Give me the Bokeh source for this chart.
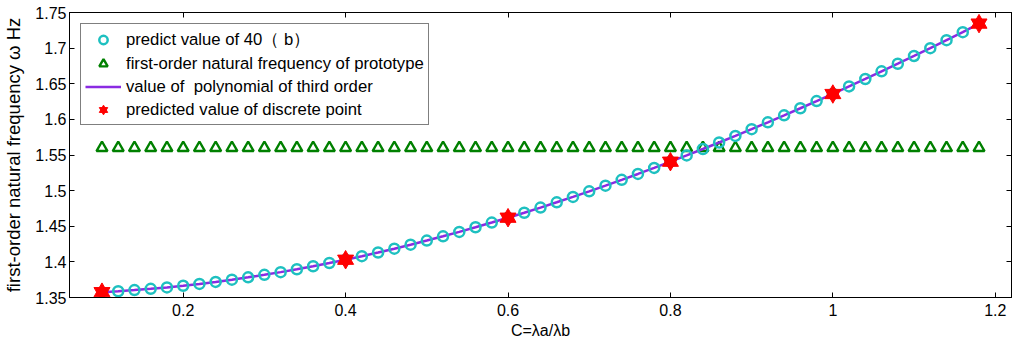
from bokeh.plotting import figure
from bokeh.models import (Range1d, LinearAxis, FixedTicker, Legend, LegendItem,
                          CustomJSTickFormatter)
from bokeh.embed import file_html
from bokeh.resources import INLINE

# ---- data ----
circle_x = [0.12, 0.14, 0.16, 0.18, 0.20, 0.22, 0.24, 0.26, 0.28, 0.30,
            0.32, 0.34, 0.36, 0.38, 0.40, 0.42, 0.44, 0.46, 0.48, 0.50,
            0.52, 0.54, 0.56, 0.58, 0.60, 0.62, 0.64, 0.66, 0.68, 0.70,
            0.72, 0.74, 0.76, 0.78, 0.80, 0.82, 0.84, 0.86, 0.88, 0.90,
            0.92, 0.94, 0.96, 0.98, 1.00, 1.02, 1.04, 1.06, 1.08, 1.10,
            1.12, 1.14, 1.16]
circle_y = [1.3588, 1.3604, 1.3622, 1.3642, 1.3665, 1.3691, 1.3719, 1.3750, 1.3783, 1.3818,
            1.3856, 1.3896, 1.3939, 1.3984, 1.4031, 1.4080, 1.4132, 1.4185, 1.4241, 1.4299,
            1.4359, 1.4421, 1.4486, 1.4552, 1.4620, 1.4690, 1.4762, 1.4836, 1.4912, 1.4990,
            1.5070, 1.5151, 1.5234, 1.5319, 1.5406, 1.5494, 1.5584, 1.5675, 1.5768, 1.5863,
            1.5959, 1.6057, 1.6156, 1.6257, 1.6359, 1.6463, 1.6567, 1.6674, 1.6781, 1.6890,
            1.7000, 1.7112, 1.7224]

proto_x = [0.10, 0.12, 0.14, 0.16, 0.18, 0.20, 0.22, 0.24, 0.26, 0.28,
           0.30, 0.32, 0.34, 0.36, 0.38, 0.40, 0.42, 0.44, 0.46, 0.48,
           0.50, 0.52, 0.54, 0.56, 0.58, 0.60, 0.62, 0.64, 0.66, 0.68,
           0.70, 0.72, 0.74, 0.76, 0.78, 0.80, 0.82, 0.84, 0.86, 0.88,
           0.90, 0.92, 0.94, 0.96, 0.98, 1.00, 1.02, 1.04, 1.06, 1.08,
           1.10, 1.12, 1.14, 1.16, 1.18]
proto_y = [1.56] * len(proto_x)

poly_x = [0.10] + circle_x + [1.18]
poly_y = [1.3575] + circle_y + [1.7344]

star_x = [0.10, 0.40, 0.60, 0.80, 1.00, 1.18]
star_y = [1.3575, 1.4030, 1.4620, 1.5406, 1.6356, 1.7344]

x_ticks = [0.2, 0.4, 0.6, 0.8, 1.0, 1.2]
x_tick_labels = ["0.2", "0.4", "0.6", "0.8", "1", "1.2"]
y_ticks = [1.35, 1.40, 1.45, 1.50, 1.55, 1.60, 1.65, 1.70, 1.75]
y_tick_labels = ["1.35", "1.4", "1.45", "1.5", "1.55", "1.6", "1.65", "1.7", "1.75"]

labels = ["predict value of 40\uff08 b\uff09",
          "first-order natural frequency of prototype",
          "value of  polynomial of third order",
          "predicted value of discrete point"]

FONT = "Liberation Sans"

p = figure(frame_width=942, frame_height=285,
           x_range=Range1d(0.06, 1.22), y_range=Range1d(1.35, 1.75),
           output_backend="svg", toolbar_location=None,
           min_border_left=62, min_border_right=2, min_border_top=12,
           min_border_bottom=10)
p.grid.visible = False
p.outline_line_color = "black"
p.outline_line_width = 1
p.background_fill_color = "white"
p.border_fill_color = "white"

xt = FixedTicker(ticks=x_ticks, minor_ticks=[])
yt = FixedTicker(ticks=y_ticks, minor_ticks=[])
xo = {t: l for t, l in zip(x_ticks, x_tick_labels)}
yo = {t: l for t, l in zip(y_ticks, y_tick_labels)}

for ax in p.xaxis:
    ax.ticker = xt
    ax.major_label_overrides = xo
    ax.axis_label = "C=\u03bba/\u03bbb"
    ax.major_label_standoff = 6
    ax.axis_label_standoff = 3
    ax.axis_label_text_font_size = "16px"
for ax in p.yaxis:
    ax.ticker = yt
    ax.major_label_overrides = yo
    ax.axis_label = "first-order natural frequency \u03c9 Hz"
    ax.major_label_standoff = 3
    ax.axis_label_standoff = 8
    ax.axis_label_text_font_size = "18.5px"

for ax in list(p.xaxis) + list(p.yaxis):
    ax.major_tick_in = 5
    ax.major_tick_out = 0
    ax.minor_tick_line_color = None
    ax.axis_line_color = "black"
    ax.major_tick_line_color = "black"
    ax.major_label_text_font = FONT
    ax.major_label_text_font_size = "16px"
    ax.major_label_text_color = "black"
    ax.axis_label_text_font = FONT
    ax.axis_label_text_font_style = "normal"
    ax.axis_label_text_color = "black"

blank = CustomJSTickFormatter(code="return '';")
top_ax = LinearAxis(ticker=xt, major_tick_in=5, major_tick_out=0,
                    formatter=blank, major_label_standoff=0,
                    axis_line_color="black")
right_ax = LinearAxis(ticker=yt, major_tick_in=5, major_tick_out=0,
                      formatter=blank, major_label_standoff=0,
                      axis_line_color="black")
p.add_layout(top_ax, "above")
p.add_layout(right_ax, "right")

r_proto = p.scatter(proto_x, proto_y, marker="triangle", size=11,
                    fill_color=None, line_color="#008000", line_width=2.4)
r_poly = p.line(poly_x, poly_y, line_color="#8A2BE2", line_width=2.5)
r_circ = p.scatter(circle_x, circle_y, marker="circle", size=10,
                   fill_color=None, line_color="#1EC0C0", line_width=2.5)
r_star1 = p.scatter(star_x, star_y, marker="triangle", size=16,
                    fill_color="#FF0000", line_color="#FF0000")
r_star2 = p.scatter(star_x, star_y, marker="inverted_triangle", size=16,
                    fill_color="#FF0000", line_color="#FF0000")

legend = Legend(items=[
    LegendItem(label=labels[0], renderers=[r_circ]),
    LegendItem(label=labels[1], renderers=[r_proto]),
    LegendItem(label=labels[2], renderers=[r_poly]),
    LegendItem(label=labels[3], renderers=[r_star1, r_star2]),
], location="top_left")
legend.margin = 11
legend.padding = 4
legend.spacing = 2
legend.glyph_width = 36
legend.glyph_height = 21
legend.label_height = 21
legend.label_standoff = 5
legend.label_text_font = FONT
legend.label_text_font_size = "16.7px"
legend.label_text_color = "black"
legend.border_line_color = "black"
legend.border_line_width = 1
legend.background_fill_color = "white"
legend.background_fill_alpha = 1
p.add_layout(legend, "center")

open("out.html", "w").write(file_html(p, INLINE))
